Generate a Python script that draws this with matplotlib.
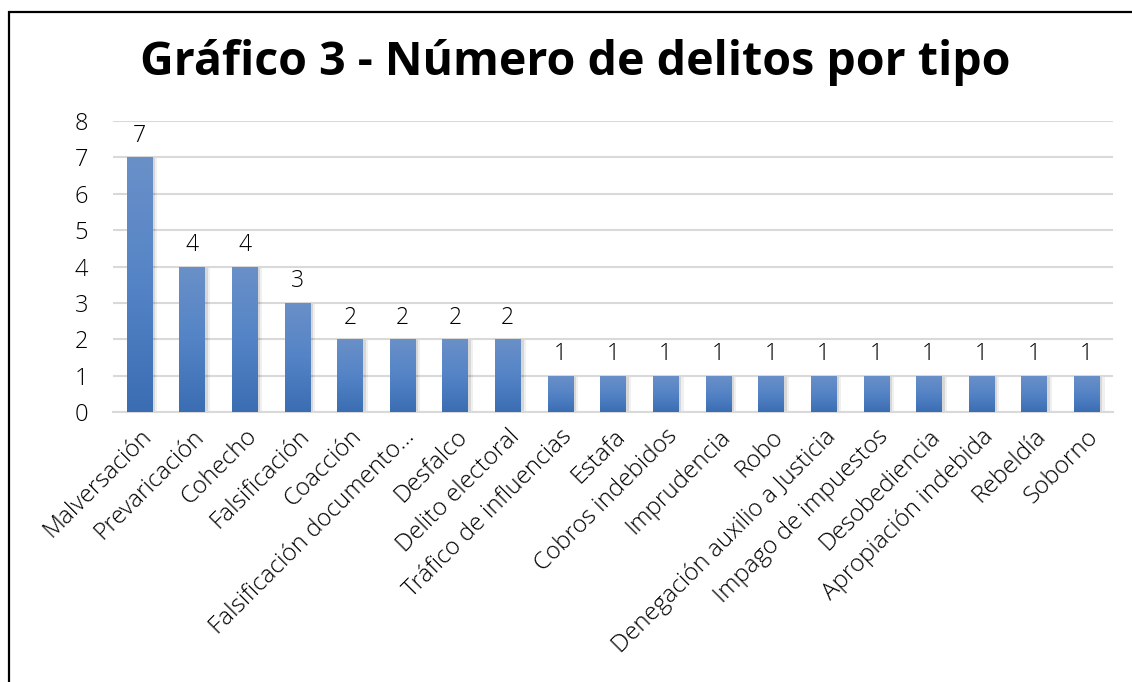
import numpy as np
import matplotlib
matplotlib.use("Agg")
import matplotlib.pyplot as plt
from matplotlib.patches import Rectangle
from matplotlib.colors import LinearSegmentedColormap

categories = ["Malversación", "Prevaricación", "Cohecho", "Falsificación", "Coacción",
              "Falsificación documento…", "Desfalco", "Delito electoral",
              "Tráfico de influencias", "Estafa", "Cobros indebidos", "Imprudencia",
              "Robo", "Denegación auxilio a Justicia", "Impago de impuestos",
              "Desobediencia", "Apropiación indebida", "Rebeldía", "Soborno"]
values = [7, 4, 4, 3, 2, 2, 2, 2, 1, 1, 1, 1, 1, 1, 1, 1, 1, 1, 1]
yticks = [0, 1, 2, 3, 4, 5, 6, 7, 8]
title = "Gráfico 3 - Número de delitos por tipo"

plt.rcParams['font.family'] = ['Open Sans', 'DejaVu Sans']

W, H = 1132, 682
fig = plt.figure(figsize=(W / 100, H / 100), dpi=100)
ax = fig.add_axes([113 / W, 1 - 412 / H, 1000 / W, 291 / H])

x = np.arange(len(categories))
bw = 0.48
# soft shadows
for dx, a in [(0.06, 0.10), (0.10, 0.06)]:
    ax.bar(x + dx, values, width=bw, bottom=-0.03, color='#000000', alpha=a,
           zorder=2, linewidth=0)
bars = ax.bar(x, values, width=bw, color='#4F81BD', zorder=3, linewidth=0)

cmap = LinearSegmentedColormap.from_list('g', ['#3B6DB3', '#5484C6', '#6A90C8'])
grad = np.linspace(0, 1, 256).reshape(-1, 1)
for b in bars:
    x0, w, h = b.get_x(), b.get_width(), b.get_height()
    im = ax.imshow(grad, cmap=cmap, origin='lower', aspect='auto',
                   extent=[x0, x0 + w, 0, h], zorder=4, interpolation='bicubic')
    im.set_clip_path(b)

for xi, v in zip(x, values):
    ax.annotate(str(v), (xi, v), xytext=(0, 7), textcoords='offset points',
                ha='center', va='bottom', fontsize=16.5, fontweight='light',
                color='#000000', zorder=5)

ax.set_xlim(-0.5, len(categories) - 0.5)
ax.set_ylim(0, 8)
ax.set_yticks(yticks)
ax.set_yticklabels([str(t) for t in yticks], fontsize=17, fontweight='light')
ax.yaxis.grid(True, color='#D9D9D9', linewidth=1.5, zorder=0)
ax.set_axisbelow(True)
ax.tick_params(axis='y', length=0, pad=18)
ax.tick_params(axis='x', length=0, pad=9)
ax.set_xticks(x)
ax.set_xticklabels(categories, rotation=45, ha='right', va='top',
                   rotation_mode='anchor', fontsize=17.5, fontweight='light')
for s in ['top', 'right', 'left']:
    ax.spines[s].set_visible(False)
ax.spines['bottom'].set_color('#D9D9D9')
ax.spines['bottom'].set_linewidth(1.5)

fig.text(575 / W, 1 - 62 / H, title, ha='center', va='center',
         fontsize=33.5, fontweight='bold', color='#000000')

# outer border (extends beyond image right/bottom)
fig.patches.append(Rectangle((9 / W, -0.05), 1.2, 1 - 12 / H + 0.05,
                             transform=fig.transFigure, fill=False,
                             edgecolor='#000000', linewidth=1.6))

fig.savefig('out.png', dpi=100, facecolor='white')
